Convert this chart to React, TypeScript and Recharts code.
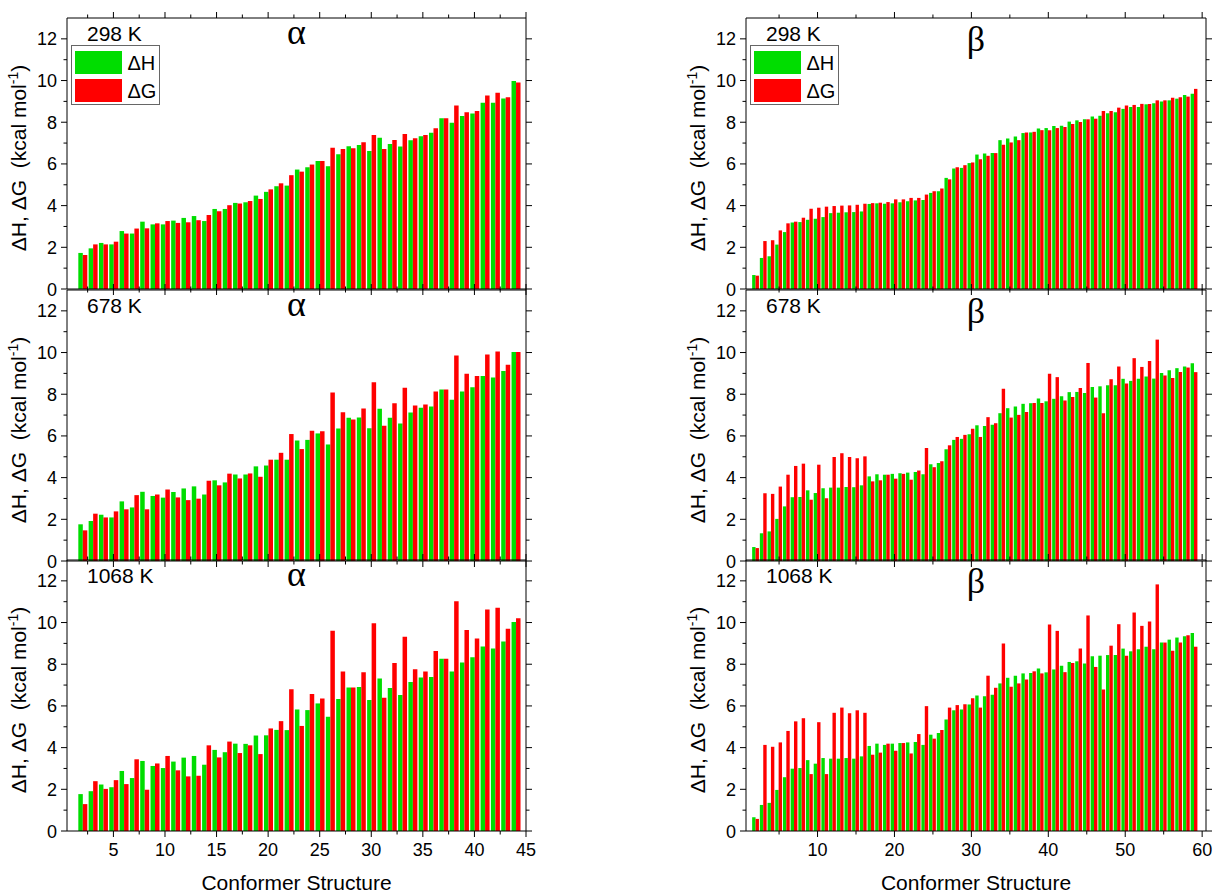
import React from 'react';
import { BarChart, Bar, XAxis, YAxis } from 'recharts';

const SANS = '"Liberation Sans", Arial, Helvetica, sans-serif';
const SERIF = '"Liberation Serif", "Times New Roman", serif';
const GREEN = '#00dd00';
const RED = '#ff0000';

// ---------- data (conformer 1 is the reference, 0 kcal/mol) ----------
const alphaDH298 = [0, 1.73, 1.95, 2.21, 2.14, 2.78, 2.66, 3.23, 3.10, 3.10, 3.28, 3.41, 3.50, 3.26, 3.84, 3.84, 4.13, 4.16, 4.48, 4.66, 4.93, 4.96, 5.73, 5.84, 6.14, 5.89, 6.46, 6.85, 6.91, 6.62, 7.26, 6.96, 6.83, 7.14, 7.33, 7.49, 8.19, 7.98, 8.30, 8.42, 8.93, 8.94, 9.14, 9.98];
const alphaDG298 = [0, 1.63, 2.14, 2.14, 2.27, 2.66, 2.90, 2.91, 3.15, 3.26, 3.17, 3.20, 3.30, 3.55, 3.73, 4.02, 4.10, 4.22, 4.32, 4.78, 5.07, 5.46, 5.63, 5.97, 6.14, 6.77, 6.72, 6.75, 7.04, 7.39, 6.72, 7.15, 7.44, 7.23, 7.39, 7.71, 8.19, 8.80, 8.48, 8.54, 9.28, 9.42, 9.20, 9.90];
const alphaDH678 = [0, 1.76, 1.92, 2.22, 2.09, 2.86, 2.57, 3.32, 3.12, 3.04, 3.31, 3.48, 3.58, 3.19, 3.87, 3.77, 4.15, 4.15, 4.54, 4.58, 4.86, 4.86, 5.78, 5.81, 6.12, 5.59, 6.36, 6.87, 6.88, 6.37, 7.30, 6.87, 6.60, 7.12, 7.35, 7.41, 8.23, 7.73, 8.13, 8.34, 8.87, 8.80, 9.11, 10.02];
const alphaDG678 = [0, 1.47, 2.27, 2.09, 2.38, 2.48, 3.16, 2.48, 3.19, 3.43, 3.05, 2.92, 2.99, 3.85, 3.63, 4.19, 3.96, 4.20, 4.04, 4.86, 5.19, 6.09, 5.37, 6.25, 6.23, 8.08, 7.14, 6.79, 7.32, 8.58, 6.49, 7.57, 8.31, 7.46, 7.51, 8.13, 8.23, 9.86, 8.98, 8.87, 9.90, 10.05, 9.41, 10.02];
const alphaDH1068 = [0, 1.77, 1.91, 2.23, 2.10, 2.88, 2.54, 3.36, 3.12, 3.02, 3.33, 3.52, 3.60, 3.18, 3.89, 3.78, 4.19, 4.18, 4.58, 4.59, 4.85, 4.84, 5.83, 5.80, 6.12, 5.48, 6.33, 6.88, 6.91, 6.28, 7.31, 6.86, 6.52, 7.15, 7.36, 7.39, 8.26, 7.65, 8.08, 8.34, 8.85, 8.76, 9.09, 10.02];
const alphaDG1068 = [0, 1.29, 2.39, 2.02, 2.44, 2.25, 3.44, 1.98, 3.24, 3.60, 2.91, 2.62, 2.65, 4.11, 3.53, 4.29, 3.74, 4.11, 3.69, 4.92, 5.27, 6.80, 5.04, 6.57, 6.36, 9.61, 7.65, 6.88, 7.61, 9.96, 6.39, 8.06, 9.32, 7.76, 7.65, 8.64, 8.26, 11.02, 9.64, 9.24, 10.63, 10.71, 9.70, 10.20];

const betaDH298 = [0, 0.67, 1.49, 1.57, 2.13, 2.73, 3.19, 3.21, 3.32, 3.37, 3.45, 3.64, 3.66, 3.68, 3.69, 3.72, 4.08, 4.11, 4.09, 4.11, 4.16, 4.21, 4.25, 4.27, 4.61, 4.69, 5.33, 5.78, 5.81, 6.04, 6.45, 6.50, 6.52, 7.14, 7.22, 7.32, 7.48, 7.51, 7.70, 7.72, 7.82, 7.83, 8.03, 8.09, 8.14, 8.28, 8.31, 8.43, 8.48, 8.64, 8.73, 8.73, 8.86, 8.91, 8.99, 9.05, 9.13, 9.31, 9.37];
const betaDG298 = [0, 0.64, 2.30, 2.34, 2.81, 3.15, 3.23, 3.42, 3.85, 3.90, 3.95, 3.98, 4.00, 4.01, 4.04, 4.09, 4.12, 4.14, 4.17, 4.30, 4.30, 4.37, 4.37, 4.53, 4.69, 4.82, 5.26, 5.84, 5.94, 6.07, 6.23, 6.39, 6.52, 6.92, 7.03, 7.14, 7.51, 7.54, 7.62, 7.61, 7.72, 7.77, 7.91, 8.01, 8.14, 8.17, 8.54, 8.54, 8.70, 8.80, 8.83, 8.88, 8.88, 9.05, 9.05, 9.17, 9.20, 9.23, 9.60];
const betaDH678 = [0, 0.67, 1.33, 1.42, 2.02, 2.62, 3.06, 3.07, 3.39, 3.26, 3.49, 3.52, 3.52, 3.55, 3.54, 3.63, 4.06, 4.16, 4.14, 4.18, 4.21, 4.24, 4.27, 4.16, 4.64, 4.70, 5.36, 5.81, 5.86, 6.08, 6.51, 6.48, 6.54, 7.09, 7.33, 7.41, 7.54, 7.57, 7.79, 7.66, 7.78, 7.90, 8.10, 8.11, 8.06, 8.35, 8.38, 8.43, 8.43, 8.74, 8.64, 8.74, 8.85, 8.75, 9.02, 9.15, 9.25, 9.33, 9.49];
const betaDG678 = [0, 0.62, 3.25, 3.22, 3.57, 4.14, 4.56, 4.67, 2.94, 4.62, 3.01, 4.99, 5.17, 4.99, 4.93, 5.02, 3.82, 3.87, 4.14, 3.95, 4.18, 3.90, 4.34, 5.42, 4.50, 4.78, 5.55, 5.95, 6.05, 6.35, 5.95, 6.90, 6.61, 8.26, 6.88, 7.01, 7.15, 7.58, 7.58, 8.98, 8.82, 7.70, 7.87, 8.30, 9.50, 7.84, 7.09, 8.72, 9.33, 8.51, 9.73, 9.31, 9.60, 10.62, 8.90, 8.78, 9.07, 9.28, 9.06];
const betaDH1068 = [0, 0.66, 1.25, 1.35, 1.97, 2.58, 2.99, 3.02, 3.40, 3.23, 3.50, 3.47, 3.47, 3.50, 3.47, 3.58, 4.08, 4.19, 4.13, 4.19, 4.22, 4.25, 4.27, 4.13, 4.62, 4.70, 5.35, 5.79, 5.83, 6.07, 6.50, 6.47, 6.53, 7.08, 7.35, 7.45, 7.56, 7.58, 7.80, 7.61, 7.75, 7.93, 8.11, 8.14, 8.03, 8.38, 8.41, 8.44, 8.44, 8.75, 8.62, 8.72, 8.84, 8.72, 9.04, 9.18, 9.28, 9.34, 9.50];
const betaDG1068 = [0, 0.58, 4.13, 4.04, 4.25, 4.80, 5.26, 5.41, 2.73, 5.22, 2.73, 5.67, 5.92, 5.65, 5.79, 5.67, 3.66, 3.76, 4.19, 3.85, 4.22, 3.72, 4.65, 5.99, 4.43, 4.85, 5.92, 6.04, 6.08, 6.37, 5.92, 7.45, 6.87, 9.00, 6.92, 7.08, 7.27, 7.66, 7.56, 9.90, 9.60, 7.62, 8.06, 8.75, 10.34, 7.87, 6.79, 8.89, 9.92, 8.41, 10.48, 9.84, 10.05, 11.83, 9.04, 8.65, 9.04, 9.39, 8.84];

const temperatureLabels = ['298 K', '678 K', '1068 K'];
const phaseLabels = ['\u03b1', '\u03b2'];
const seriesNames = ['\u0394H', '\u0394G'];
const alphaXTicks = [2.5, 5, 7.5, 10, 12.5, 15, 17.5, 20, 22.5, 25, 27.5, 30, 32.5, 35, 37.5, 40, 42.5, 45];
const betaXTicks = [5, 10, 15, 20, 25, 30, 35, 40, 45, 50, 55, 60];
const yTicks = [0, 1, 2, 3, 4, 5, 6, 7, 8, 9, 10, 11, 12];
const xTitle = 'Conformer Structure';

const rows = (dh: number[], dg: number[]) => dh.map((h, i) => ({ x: i + 1, dH: h, dG: dg[i] }));

const PANEL_DATA = [
  [rows(alphaDH298, alphaDG298), rows(alphaDH678, alphaDG678), rows(alphaDH1068, alphaDG1068)],
  [rows(betaDH298, betaDG298), rows(betaDH678, betaDG678), rows(betaDH1068, betaDG1068)],
];

// ---------- layout ----------
const COLS = [
  { plotLeft: 67, plotWidth: 459, domain: [0.5, 45], ticks: alphaXTicks, major: 5, barSize: 4.5, greekDy: 26 },
  { plotLeft: 746, plotWidth: 460, domain: [0.7, 60.5], ticks: betaXTicks, major: 10, barSize: 3.4, greekDy: 33 },
];
const ROW_TOPS = [18, 290, 560];
const PLOT_H = 271;
const Y_AXIS_W = 60;
const R_AXIS_W = 10;
const GREEK_SIZE = 36;

const isMajor = (v: number, m: number) => Math.abs(v / m - Math.round(v / m)) < 1e-6;

const BottomTick = (p: any) => {
  const { x, y, payload, major, showLabel } = p;
  const m = isMajor(payload.value, major);
  return (
    <g>
      <line x1={x} x2={x} y1={y} y2={y + (m ? 6 : 3.5)} stroke="#000" strokeWidth={1} />
      {showLabel && m ? (
        <text x={x} y={y + 25} textAnchor="middle" fontFamily={SANS} fontSize={18} fill="#000">
          {payload.value}
        </text>
      ) : null}
    </g>
  );
};

const TopTick = (p: any) => {
  const { x, y, payload, major } = p;
  const m = isMajor(payload.value, major);
  return <line x1={x} x2={x} y1={y} y2={y - (m ? 6 : 3.5)} stroke="#000" strokeWidth={1} />;
};

const LeftTick = (p: any) => {
  const { x, y, payload } = p;
  const m = isMajor(payload.value, 2);
  return (
    <g>
      <line x1={x} x2={x - (m ? 6 : 3.5)} y1={y} y2={y} stroke="#000" strokeWidth={1} />
      {m ? (
        <text x={x - 10} y={y + 6.5} textAnchor="end" fontFamily={SANS} fontSize={18} fill="#000">
          {payload.value}
        </text>
      ) : null}
    </g>
  );
};

const RightTick = (p: any) => {
  const { x, y, payload } = p;
  const m = isMajor(payload.value, 2);
  return <line x1={x} x2={x + (m ? 6 : 3.5)} y1={y} y2={y} stroke="#000" strokeWidth={1} />;
};

const axisLine = { stroke: '#000', strokeWidth: 1 };

function Panel({ col, row }: { col: number; row: number }) {
  const c = COLS[col];
  const plotTop = ROW_TOPS[row];
  const showLabels = row === 2;
  const bottomH = showLabels ? 40 : 10;
  const width = Y_AXIS_W + c.plotWidth + R_AXIS_W + 5;
  const height = 2 + 10 + PLOT_H + bottomH + 2;
  const data = PANEL_DATA[col][row];
  return (
    <div style={{ position: 'absolute', left: c.plotLeft - Y_AXIS_W, top: plotTop - 12, width, height }}>
      <BarChart
        width={width}
        height={height}
        data={data}
        margin={{ top: 2, right: 5, bottom: 2, left: 0 }}
        barGap={0}
      >
        <XAxis
          xAxisId={0}
          dataKey="x"
          type="number"
          domain={c.domain}
          ticks={c.ticks}
          allowDataOverflow
          interval={0}
          height={bottomH}
          axisLine={axisLine}
          tickLine={false}
          tickSize={0}
          tickMargin={0}
          tick={(p: any) => <BottomTick {...p} major={c.major} showLabel={showLabels} />}
        />
        <XAxis
          xAxisId="top"
          orientation="top"
          dataKey="x"
          type="number"
          domain={c.domain}
          ticks={c.ticks}
          allowDataOverflow
          interval={0}
          height={10}
          axisLine={axisLine}
          tickLine={false}
          tickSize={0}
          tickMargin={0}
          tick={(p: any) => <TopTick {...p} major={c.major} />}
        />
        <YAxis
          yAxisId={0}
          type="number"
          domain={[0, 13]}
          ticks={yTicks}
          allowDataOverflow
          interval={0}
          width={Y_AXIS_W}
          axisLine={axisLine}
          tickLine={false}
          tickSize={0}
          tickMargin={0}
          tick={(p: any) => <LeftTick {...p} />}
        />
        <YAxis
          yAxisId="right"
          orientation="right"
          type="number"
          domain={[0, 13]}
          ticks={yTicks}
          allowDataOverflow
          interval={0}
          width={R_AXIS_W}
          axisLine={axisLine}
          tickLine={false}
          tickSize={0}
          tickMargin={0}
          tick={(p: any) => <RightTick {...p} />}
        />
        <Bar dataKey="dH" name={seriesNames[0]} fill={GREEN} barSize={c.barSize} isAnimationActive={false} />
        <Bar dataKey="dG" name={seriesNames[1]} fill={RED} barSize={c.barSize} isAnimationActive={false} />
      </BarChart>
    </div>
  );
}

function PanelText({ col, row }: { col: number; row: number }) {
  const c = COLS[col];
  const plotTop = ROW_TOPS[row];
  const cx = c.plotLeft + c.plotWidth / 2;
  return (
    <>
      <div
        style={{
          position: 'absolute', left: c.plotLeft + 20, top: plotTop + 4.5, fontFamily: SANS,
          fontSize: 21, lineHeight: '21px', whiteSpace: 'nowrap', color: '#000',
        }}
      >
        {temperatureLabels[row]}
      </div>
      <div
        style={{
          position: 'absolute', left: cx, top: plotTop + c.greekDy - 30, transform: 'translateX(-50%)',
          fontFamily: SERIF, fontSize: GREEK_SIZE, lineHeight: `${GREEK_SIZE}px`, whiteSpace: 'nowrap', color: '#000',
        }}
      >
        {phaseLabels[col]}
      </div>
      <div
        style={{
          position: 'absolute', left: c.plotLeft - 47, top: plotTop + PLOT_H / 2 + 4,
          transform: 'translate(-50%, -50%) rotate(-90deg)', fontFamily: SANS, fontSize: 21,
          lineHeight: '21px', whiteSpace: 'pre', color: '#000',
        }}
      >
        {'\u0394H, \u0394G  (kcal mol'}
        <span style={{ fontSize: 14, position: 'relative', top: -8 }}>-1</span>
        {')'}
      </div>
    </>
  );
}

function LegendBox({ col }: { col: number }) {
  const c = COLS[col];
  const swatch = (top: number, color: string) => (
    <div style={{ position: 'absolute', left: 3, top, width: 47, height: 23, background: color }} />
  );
  const label = (top: number, text: string) => (
    <div style={{ position: 'absolute', left: 56, top, fontFamily: SANS, fontSize: 20, lineHeight: '20px', color: '#000' }}>
      {text}
    </div>
  );
  return (
    <div
      style={{
        position: 'absolute', left: c.plotLeft + 3.5, top: 45, width: 89, height: 60,
        border: '1px solid #666', boxSizing: 'border-box', background: '#fff',
      }}
    >
      {swatch(5, GREEN)}
      {swatch(33, RED)}
      {label(7, seriesNames[0])}
      {label(35, seriesNames[1])}
    </div>
  );
}

export default function App() {
  return (
    <div
      style={{
        position: 'absolute', left: 0, top: 0, width: 1214, height: 893, background: '#fff',
        overflow: 'hidden', fontFamily: SANS,
      }}
    >
      {[0, 1].map((col) => [0, 1, 2].map((row) => <Panel key={`p${col}${row}`} col={col} row={row} />))}
      {[0, 1].map((col) => [0, 1, 2].map((row) => <PanelText key={`t${col}${row}`} col={col} row={row} />))}
      <LegendBox col={0} />
      <LegendBox col={1} />
      {[0, 1].map((col) => (
        <div
          key={`xt${col}`}
          style={{
            position: 'absolute', left: COLS[col].plotLeft + COLS[col].plotWidth / 2, top: 872,
            transform: 'translateX(-50%)', fontFamily: SANS, fontSize: 21, lineHeight: '21px',
            whiteSpace: 'nowrap', color: '#000',
          }}
        >
          {xTitle}
        </div>
      ))}
    </div>
  );
}
